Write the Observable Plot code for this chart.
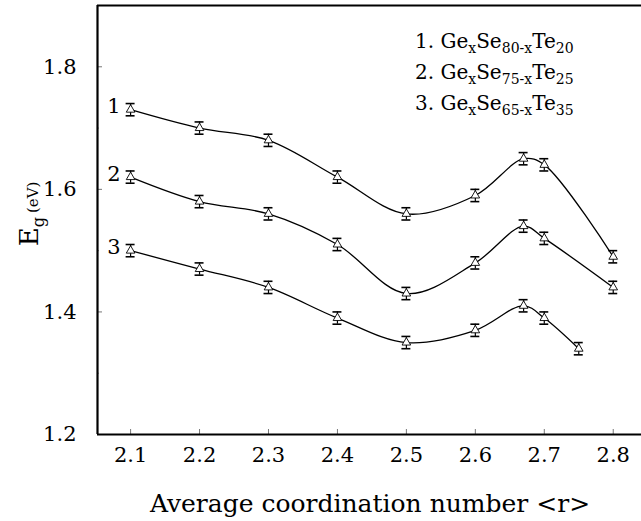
<!DOCTYPE html>
<html><head><meta charset="utf-8">
<script src="https://cdn.jsdelivr.net/npm/d3@7"></script>
<script src="https://cdn.jsdelivr.net/npm/@observablehq/plot@0.6"></script>
<style>
html,body{margin:0;padding:0;background:#fff;overflow:hidden;}
#chart{position:relative;width:641px;height:521px;}
</style></head>
<body><div id="chart"></div>
<script>
const coordination12 = [2.1, 2.2, 2.3, 2.4, 2.5, 2.6, 2.67, 2.7, 2.8];
const eg1 = [1.73, 1.70, 1.68, 1.62, 1.56, 1.59, 1.65, 1.64, 1.49];
const eg2 = [1.62, 1.58, 1.56, 1.51, 1.43, 1.48, 1.54, 1.52, 1.44];
const coordination3 = [2.1, 2.2, 2.3, 2.4, 2.5, 2.6, 2.67, 2.7, 2.75];
const eg3 = [1.50, 1.47, 1.44, 1.39, 1.35, 1.37, 1.41, 1.39, 1.34];
const egError = 0.01;
const seriesIds = ["1", "2", "3"];
const legendSe = ["80-x", "75-x", "65-x"];
const legendTe = ["20", "25", "35"];
const xTicks = [2.1, 2.2, 2.3, 2.4, 2.5, 2.6, 2.7, 2.8];
const yTicks = [1.2, 1.4, 1.6, 1.8];
const yMinor = [1.3, 1.5, 1.7];

const data = [];
coordination12.forEach((x, i) => data.push({s: "1", x, y: eg1[i]}));
coordination12.forEach((x, i) => data.push({s: "2", x, y: eg2[i]}));
coordination3.forEach((x, i) => data.push({s: "3", x, y: eg3[i]}));
const firsts = seriesIds.map(s => data.find(d => d.s === s));

const xDom = [2.052, 2.841], yDom = [1.2, 1.9];
const capHalf = 0.0065;
const FONT = '"DejaVu Serif", "Liberation Serif", serif';

const plot = Plot.plot({
  width: 641, height: 521,
  marginTop: 5, marginBottom: 87, marginLeft: 97, marginRight: 0,
  style: {fontFamily: FONT, background: "white", color: "black"},
  x: {domain: xDom},
  y: {domain: yDom},
  marks: [
    Plot.axisX({ticks: xTicks, tickSize: -5, text: null, stroke: "#777", label: null}),
    Plot.axisX({ticks: xTicks, tickSize: 0, tickPadding: 13, fontSize: 21, label: null, tickFormat: d => d.toFixed(1)}),
    Plot.axisY({ticks: [1.4, 1.6, 1.8], tickSize: -5, text: null, stroke: "#777", label: null}),
    Plot.axisY({ticks: yMinor, tickSize: -2, text: null, stroke: "#999", label: null}),
    Plot.axisY({ticks: yTicks, tickSize: 0, tickPadding: 21, fontSize: 21, label: null, tickFormat: d => d.toFixed(1)}),
    Plot.ruleY(yDom, {stroke: "black", strokeWidth: 2.2}),
    Plot.ruleX([xDom[0]], {stroke: "black", strokeWidth: 2.2}),
    Plot.line(data, {x: "x", y: "y", z: "s", curve: "catmull-rom", stroke: "black", strokeWidth: 1.3}),
    Plot.ruleX(data, {x: "x", y1: d => d.y - egError, y2: d => d.y + egError, stroke: "black", strokeWidth: 1.2}),
    Plot.ruleY(data, {y: d => d.y + egError, x1: d => d.x - capHalf, x2: d => d.x + capHalf, stroke: "black", strokeWidth: 1.6}),
    Plot.ruleY(data, {y: d => d.y - egError, x1: d => d.x - capHalf, x2: d => d.x + capHalf, stroke: "black", strokeWidth: 1.6}),
    Plot.dot(data, {x: "x", y: "y", symbol: "triangle", r: 3.2, stroke: "black", fill: "white", strokeWidth: 0.9}),
    Plot.text(firsts, {x: "x", y: "y", text: "s", textAnchor: "end", dx: -10, dy: -3, fontSize: 21})
  ]
});
document.getElementById("chart").appendChild(plot);

const svg = d3.select(plot);
const leg = svg.append("g").attr("fill", "black").attr("text-anchor", "start");
seriesIds.forEach((id, i) => {
  const t = leg.append("text").attr("x", 415).attr("y", 48 + i * 31).attr("font-size", 20);
  t.append("tspan").text(id + ". Ge");
  t.append("tspan").attr("font-size", 14).attr("dy", 5).text("x");
  t.append("tspan").attr("dy", -5).text("Se");
  t.append("tspan").attr("font-size", 14).attr("dy", 5).text(legendSe[i]);
  t.append("tspan").attr("dy", -5).text("Te");
  t.append("tspan").attr("font-size", 14).attr("dy", 5).text(legendTe[i]);
});
const yl = svg.append("text").attr("transform", "translate(38,214) rotate(-90)")
  .attr("text-anchor", "middle").attr("fill", "black").attr("font-size", 26);
yl.append("tspan").text("E");
yl.append("tspan").attr("font-size", 16).attr("dy", 6).text("g");
yl.append("tspan").attr("font-size", 15).attr("dy", -6).attr("dx", 4).text("(eV)");
svg.append("text").attr("x", 370).attr("y", 512).attr("text-anchor", "middle")
  .attr("font-size", 25).attr("fill", "black")
  .text("Average coordination number <r>");
</script></body></html>
